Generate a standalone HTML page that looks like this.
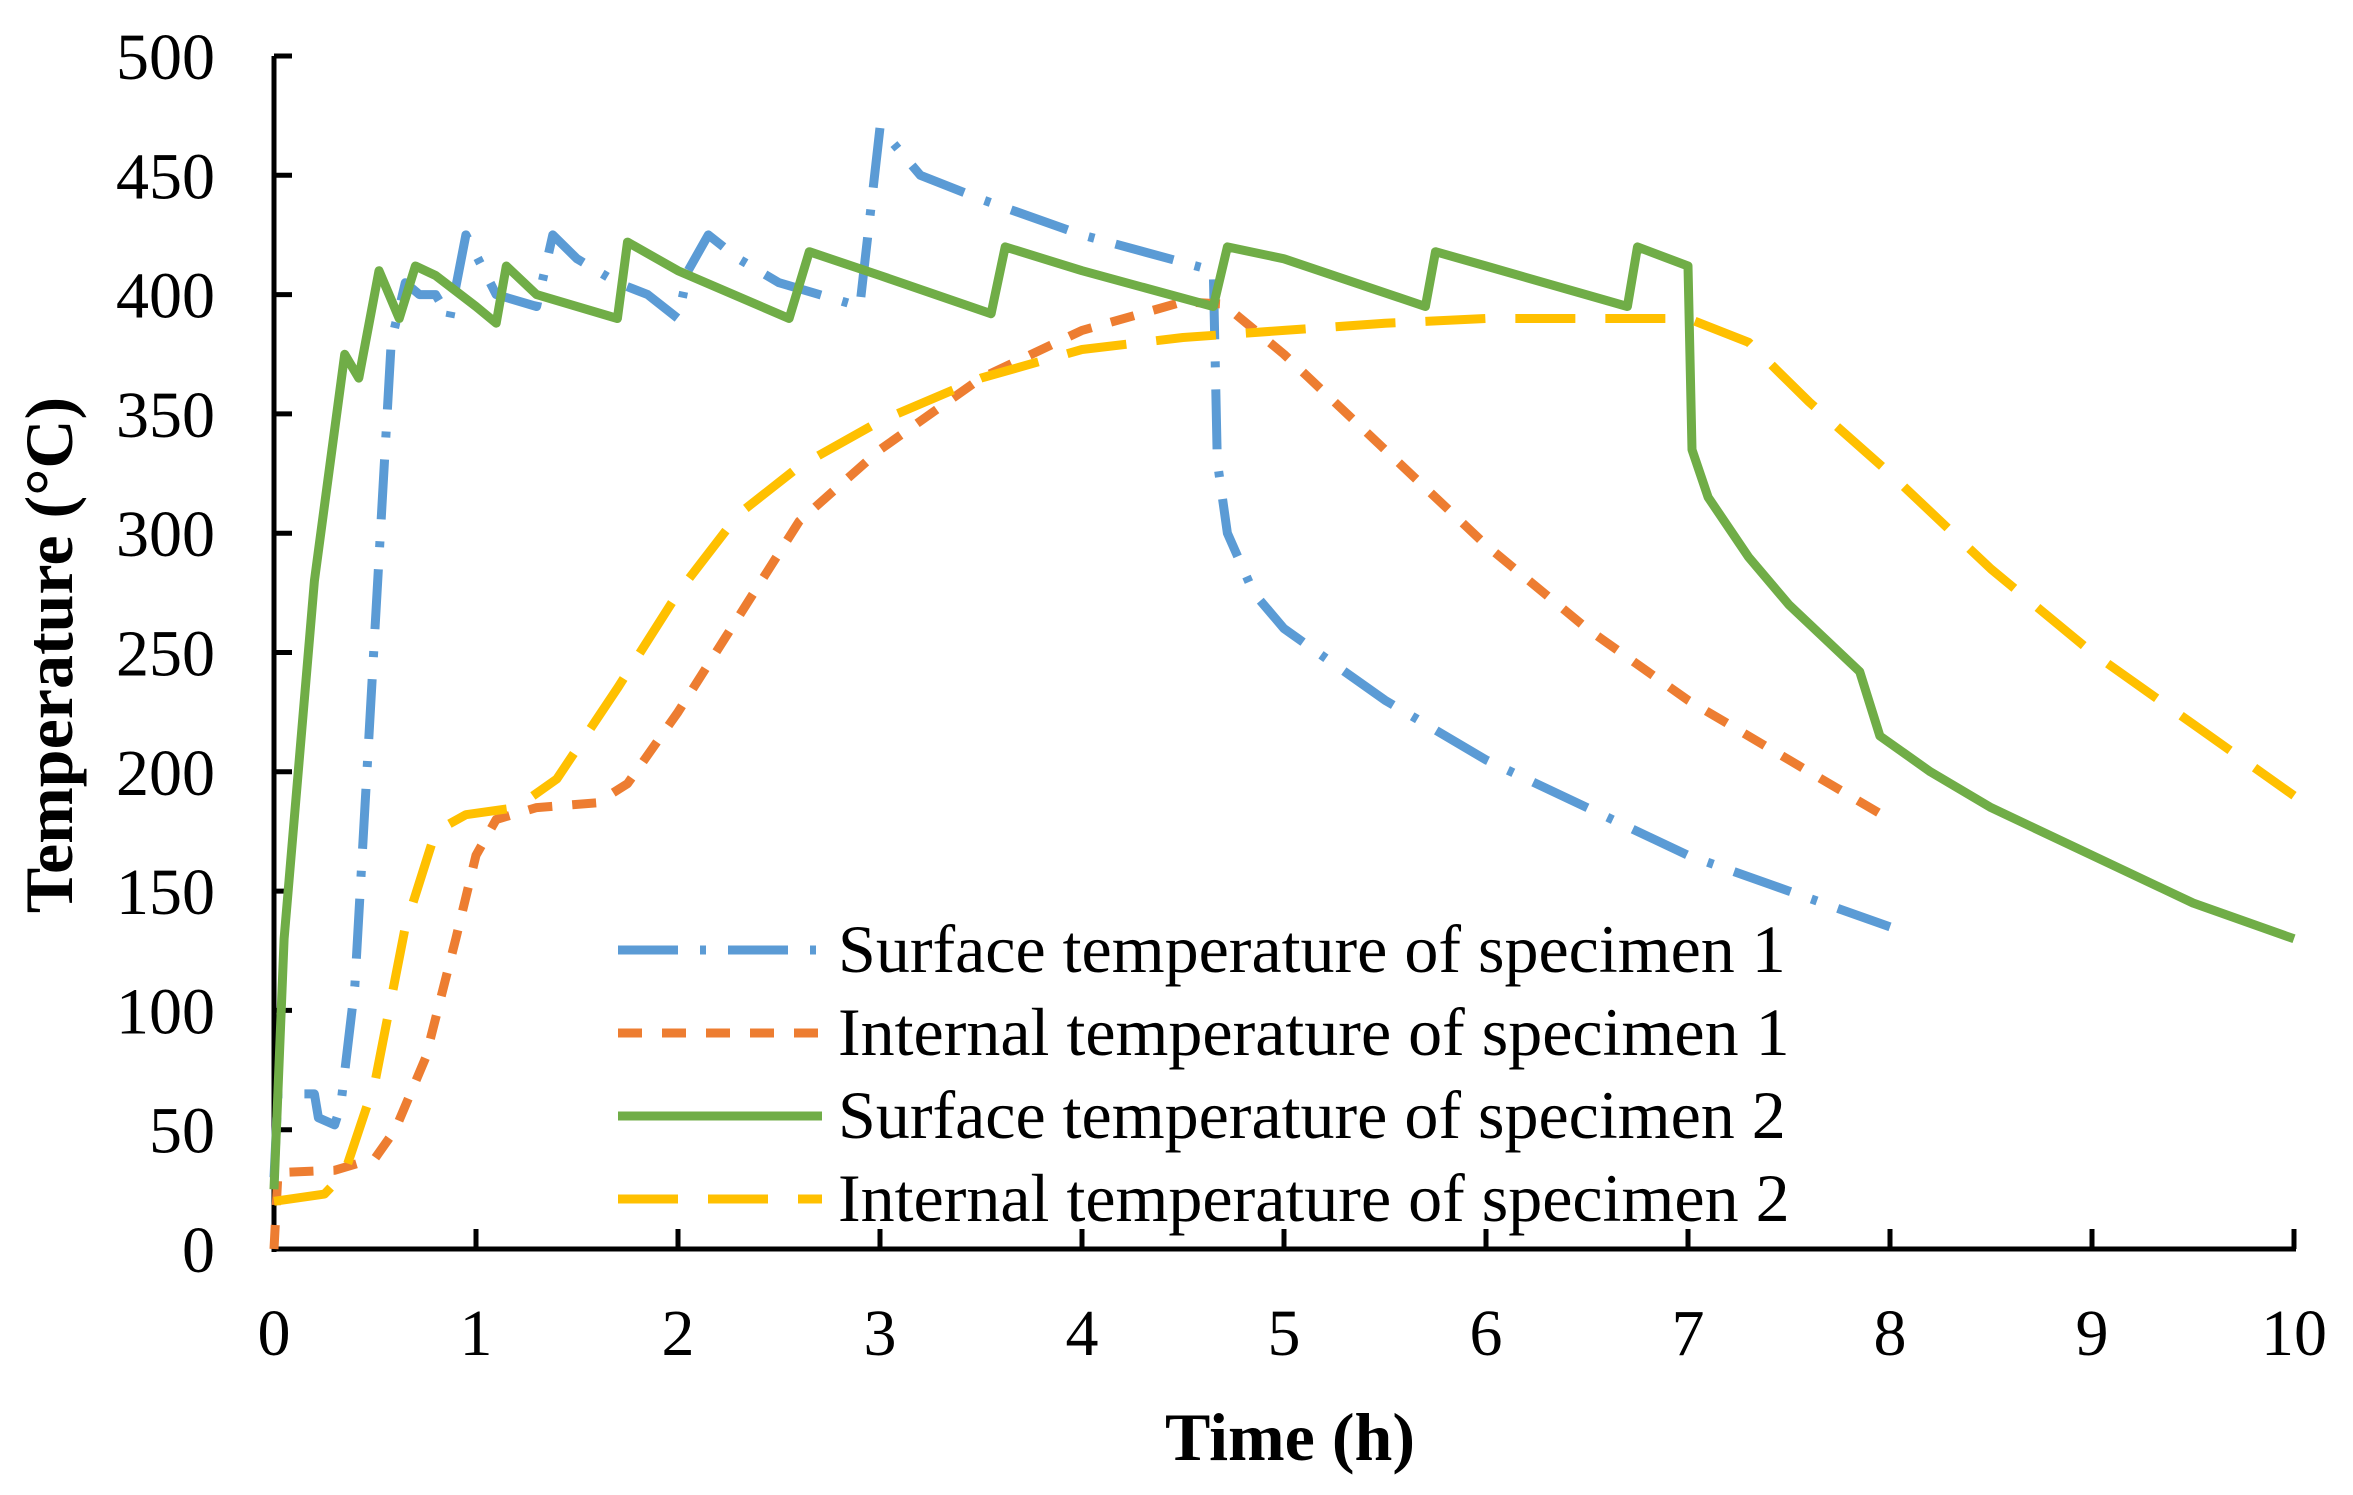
<!DOCTYPE html>
<html><head><meta charset="utf-8"><style>
html,body{margin:0;padding:0;background:#fff}
svg{display:block}
text{font-family:"Liberation Serif",serif;fill:#000}
</style></head><body>
<svg id="s" width="2353" height="1495" xmlns="http://www.w3.org/2000/svg">
<g id="ax"></g>
<g id="series" fill="none" stroke-linejoin="round"></g>
<text x="0" y="0" font-size="68" font-weight="bold" text-anchor="middle" transform="translate(72,655) rotate(-90)">Temperature (°C)</text>
<text x="1290" y="1460" font-size="68" font-weight="bold" text-anchor="middle">Time (h)</text>
<g font-size="68">
<line x1="618" y1="950" x2="822" y2="950" stroke="#5B9BD5" stroke-width="9" stroke-dasharray="60 22 6 22"/>
<text x="838" y="972">Surface temperature of specimen 1</text>
<line x1="618" y1="1033" x2="822" y2="1033" stroke="#ED7D31" stroke-width="9" stroke-dasharray="24 20"/>
<text x="838" y="1055">Internal temperature of specimen 1</text>
<line x1="618" y1="1116" x2="822" y2="1116" stroke="#70AD47" stroke-width="9"/>
<text x="838" y="1138">Surface temperature of specimen 2</text>
<line x1="618" y1="1199" x2="822" y2="1199" stroke="#FFC000" stroke-width="9" stroke-dasharray="60 30"/>
<text x="838" y="1221">Internal temperature of specimen 2</text>
</g>
</svg>
<script>
var X0=274,XS=202.0,Y0=1249,YS=2.386;
function px(t){return X0+t*XS} function py(v){return Y0-v*YS}
var NS="http://www.w3.org/2000/svg";
var ax=document.getElementById('ax'),sg=document.getElementById('series');
function el(p,tag,a,txt){var e=document.createElementNS(NS,tag);for(var k in a)e.setAttribute(k,a[k]);if(txt!=null)e.textContent=txt;p.appendChild(e);return e}
el(ax,'line',{x1:X0,y1:py(500),x2:X0,y2:Y0+3,stroke:'#000','stroke-width':5});
el(ax,'line',{x1:X0-2,y1:Y0,x2:px(10)+2,y2:Y0,stroke:'#000','stroke-width':5});
for(var v=0;v<=500;v+=50){el(ax,'line',{x1:X0,y1:py(v),x2:X0+18,y2:py(v),stroke:'#000','stroke-width':5});
el(ax,'text',{x:215,y:py(v)+23,'font-size':66,'text-anchor':'end'},v)}
for(var t=0;t<=10;t++){el(ax,'line',{x1:px(t),y1:Y0,x2:px(t),y2:Y0-20,stroke:'#000','stroke-width':5});
el(ax,'text',{x:px(t),y:1355,'font-size':66,'text-anchor':'middle'},t)}
var S=[
['#5B9BD5','60 22 6 22',[[0,30],[0.02,65],[0.2,65],[0.22,55],[0.3,52],[0.33,60],[0.4,110],[0.5,260],[0.58,380],[0.65,405],[0.72,400],[0.8,400],[0.87,390],[0.95,425],[1.1,400],[1.3,395],[1.38,425],[1.5,415],[1.7,405],[1.85,400],[2.0,390],[2.05,410],[2.15,425],[2.3,415],[2.5,405],[2.7,400],[2.9,395],[3.0,470],[3.2,450],[3.5,440],[4.0,425],[4.65,410],[4.67,330],[4.72,300],[4.85,275],[5.0,260],[5.5,230],[6.0,205],[6.5,185],[7.0,165],[7.5,150],[8.0,135]]],
['#ED7D31','24 20',[[0,0],[0.02,32],[0.3,33],[0.5,38],[0.6,50],[0.75,80],[0.9,130],[1.0,165],[1.1,180],[1.3,185],[1.6,187],[1.75,195],[2.0,225],[2.3,265],[2.6,305],[3.0,335],[3.5,365],[4.0,385],[4.5,397],[4.7,396],[5.0,375],[5.5,335],[6.0,295],[6.5,260],[7.0,230],[7.5,205],[8.0,180]]],
['#70AD47','',[[0,25],[0.05,130],[0.2,280],[0.35,375],[0.42,365],[0.52,410],[0.62,390],[0.7,412],[0.8,408],[1.0,395],[1.1,388],[1.15,412],[1.3,400],[1.7,390],[1.75,422],[2.0,410],[2.55,390],[2.65,418],[3.0,408],[3.55,392],[3.62,420],[4.0,410],[4.65,395],[4.72,420],[5.0,415],[5.7,395],[5.75,418],[6.0,412],[6.7,395],[6.75,420],[7.0,412],[7.02,335],[7.1,315],[7.3,290],[7.5,270],[7.85,242],[7.95,215],[8.2,200],[8.5,185],[9.0,165],[9.5,145],[10,130]]],
['#FFC000','60 30',[[0,20],[0.25,23],[0.35,32],[0.5,70],[0.65,135],[0.8,175],[0.95,182],[1.2,185],[1.4,197],[1.7,235],[2.0,275],[2.3,308],[2.6,328],[3.0,347],[3.5,365],[4.0,377],[4.5,382],[5.0,385],[5.5,388],[6.0,390],[6.5,390],[7.0,390],[7.3,380],[7.6,355],[8.0,325],[8.5,285],[9.0,250],[9.5,220],[10,190]]]
];
S.forEach(function(s){var d=s[2].map(function(p,i){return (i?'L':'M')+px(p[0]).toFixed(1)+' '+py(p[1]).toFixed(1)}).join('');
var a={d:d,stroke:s[0],'stroke-width':9};if(s[1])a['stroke-dasharray']=s[1];el(sg,'path',a)});
</script>
</body></html>
